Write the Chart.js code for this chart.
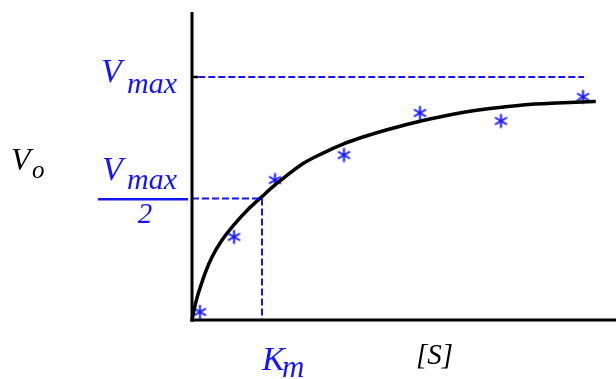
<!DOCTYPE html>
<html>
<head>
<meta charset="utf-8">
<title>Michaelis-Menten</title>
<script src="https://cdn.jsdelivr.net/npm/chart.js@4/dist/chart.umd.min.js"></script>
<style>
  html, body { margin: 0; padding: 0; background: #fff; }
  #wrap { width: 616px; height: 379px; }
</style>
</head>
<body>
<div id="wrap"><canvas id="mm" width="616" height="379"></canvas></div>
<script>
// [S] in units of Km, Vo in units of Vmax
const curveS = [0, 0.029, 0.071, 0.129, 0.2, 0.286, 0.429, 0.614, 0.8, 1.0, 1.157, 1.3, 1.586, 1.871, 2.157, 2.443, 2.8, 3.3, 3.786, 4.257, 4.729, 5.214, 5.743];
const curveV = [0, 0.041, 0.091, 0.144, 0.202, 0.259, 0.329, 0.397, 0.455, 0.508, 0.549, 0.582, 0.644, 0.687, 0.724, 0.753, 0.784, 0.821, 0.850, 0.870, 0.885, 0.893, 0.899];

const measuredS = [0.114, 0.6, 1.186, 2.171, 3.257, 4.414, 5.586];
const measuredV = [0.033, 0.342, 0.576, 0.679, 0.852, 0.819, 0.918];

const VMAX = 1;
const KM = 1;
const VMAX_LINE_END = 5.6;

const S_MAX = 6.057;
const V_MAX_AXIS = 1.2675;

const BLUE = '#1414ff';
const SERIF = '"Liberation Serif", "DejaVu Serif", serif';

const toPoints = (xs, ys) => xs.map((x, i) => ({ x, y: ys[i] }));

// asterisk marker, six spokes
function makeAsterisk() {
  const c = document.createElement('canvas');
  c.width = 17; c.height = 17;
  const g = c.getContext('2d');
  g.strokeStyle = BLUE;
  g.lineWidth = 2;
  g.lineCap = 'butt';
  const r = 7;
  [90, 30, 150].forEach(deg => {
    const a = deg * Math.PI / 180;
    g.beginPath();
    g.moveTo(8.5 - r * Math.cos(a), 8.5 - r * Math.sin(a));
    g.lineTo(8.5 + r * Math.cos(a), 8.5 + r * Math.sin(a));
    g.stroke();
  });
  return c;
}

// axes, Vmax tick and the symbolic labels
const labelsPlugin = {
  id: 'mmLabels',
  afterDatasetsDraw(chart) {
    const { ctx, chartArea, scales } = chart;
    const x0 = scales.x.getPixelForValue(0);
    const y0 = scales.y.getPixelForValue(0);
    const yMax = scales.y.getPixelForValue(VMAX);
    const yHalf = scales.y.getPixelForValue(VMAX / 2);
    const xKm = scales.x.getPixelForValue(KM);

    ctx.save();
    ctx.strokeStyle = '#000';
    ctx.lineWidth = 3;
    ctx.beginPath();
    ctx.moveTo(x0, chartArea.top);
    ctx.lineTo(x0, y0);
    ctx.lineTo(chart.width, y0);
    ctx.stroke();

    ctx.lineWidth = 2.5;
    ctx.beginPath();
    ctx.moveTo(x0, yMax);
    ctx.lineTo(x0 + 6, yMax);
    ctx.stroke();

    ctx.textBaseline = 'alphabetic';
    ctx.textAlign = 'left';

    // Vmax
    ctx.fillStyle = BLUE;
    ctx.font = `italic 34px ${SERIF}`;
    ctx.fillText('V', 101, yMax + 5);
    ctx.font = `italic 30px ${SERIF}`;
    ctx.fillText('max', 127, yMax + 16);

    // Vmax / 2
    ctx.font = `italic 34px ${SERIF}`;
    ctx.fillText('V', 102, yHalf - 19);
    ctx.font = `italic 30px ${SERIF}`;
    ctx.fillText('max', 127, yHalf - 10);
    ctx.fillRect(98, yHalf - 0.5, 90, 2.5);
    ctx.font = `italic 29px ${SERIF}`;
    ctx.textAlign = 'center';
    ctx.fillText('2', 145, yHalf + 24);

    // Km
    ctx.textAlign = 'left';
    ctx.font = `italic 34px ${SERIF}`;
    ctx.fillText('K', xKm, 370);
    ctx.font = `italic 31px ${SERIF}`;
    ctx.fillText('m', xKm + 20, 377);

    // axis titles
    ctx.fillStyle = '#000';
    ctx.font = `italic 32px ${SERIF}`;
    ctx.fillText('V', 11, 170);
    ctx.font = `italic 25px ${SERIF}`;
    ctx.fillText('o', 32, 178);
    ctx.font = `italic 29px ${SERIF}`;
    ctx.fillText('[S]', 416, 364);
    ctx.restore();
  }
};

const dashed = {
  borderColor: BLUE,
  borderWidth: 2,
  borderDash: [7, 3],
  pointRadius: 0,
  fill: false,
  tension: 0,
  clip: false
};

new Chart(document.getElementById('mm').getContext('2d'), {
  type: 'scatter',
  data: {
    datasets: [
      {
        ...dashed,
        showLine: true,
        data: [{ x: 0.09, y: VMAX }, { x: VMAX_LINE_END, y: VMAX }]
      },
      {
        ...dashed,
        showLine: true,
        data: [{ x: 0, y: VMAX / 2 }, { x: KM, y: VMAX / 2 }, { x: KM, y: 0 }]
      },
      {
        showLine: true,
        data: toPoints(curveS, curveV),
        borderColor: '#000',
        borderWidth: 3.5,
        borderCapStyle: 'square',
        cubicInterpolationMode: 'monotone',
        pointRadius: 0,
        clip: false
      },
      {
        data: toPoints(measuredS, measuredV),
        pointStyle: makeAsterisk(),
        pointRadius: 8,
        clip: false
      }
    ]
  },
  options: {
    responsive: false,
    animation: false,
    events: [],
    layout: { autoPadding: false, padding: { left: 192, right: 0, top: 12, bottom: 59 } },
    plugins: { legend: { display: false }, tooltip: { enabled: false } },
    scales: {
      x: { type: 'linear', display: false, min: 0, max: S_MAX },
      y: { type: 'linear', display: false, min: 0, max: V_MAX_AXIS }
    }
  },
  plugins: [labelsPlugin]
});
</script>
</body>
</html>
